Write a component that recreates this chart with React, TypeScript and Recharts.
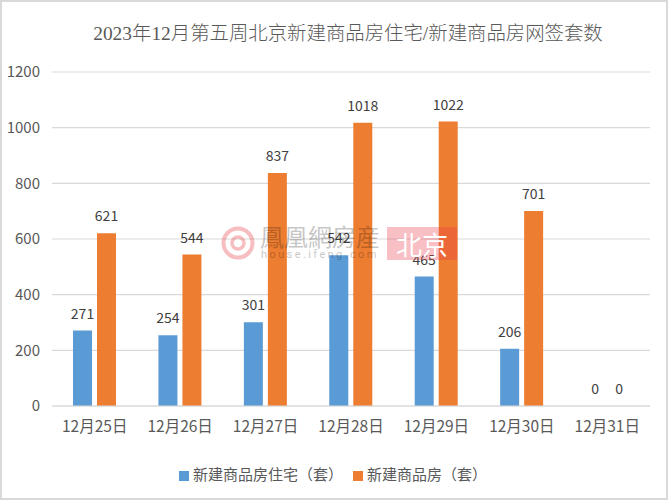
import React from "react";
import { BarChart, Bar, XAxis, YAxis, CartesianGrid, Legend, LabelList } from "recharts";

const categories = ["12月25日", "12月26日", "12月27日", "12月28日", "12月29日", "12月30日", "12月31日"];
const residential = [271, 254, 301, 542, 465, 206, 0];
const allHomes = [621, 544, 837, 1018, 1022, 701, 0];
const yTicks = [0, 200, 400, 600, 800, 1000, 1200];
const rows = categories.map((day, i) => ({ day, residential: residential[i], allHomes: allHomes[i] }));

const FONT = '"Noto Sans CJK SC", sans-serif';

const valueLabel = (p: any) => (
  <text x={Number(p.x) + Number(p.width) / 2} y={Number(p.y) - 12} textAnchor="middle" fill="#404040" fontSize={14} fontFamily={FONT}>
    {p.value}
  </text>
);

export default function App() {
  return (
    <div style={{ position: "absolute", left: 0, top: 0, width: 668, height: 500, background: "#fff", overflow: "hidden" }}>
      <BarChart width={668} height={500} data={rows} barSize={19} barGap={5} barCategoryGap={0}
        margin={{ top: 72, right: 18, bottom: 43, left: 0 }} style={{ fontFamily: FONT }}>
        <CartesianGrid vertical={false} stroke="#d9d9d9" strokeWidth={1.2} />
        <XAxis dataKey="day" axisLine={{ stroke: "#d9d9d9", strokeWidth: 1.2 }} tickLine={false} height={30}
          tick={{ fill: "#595959", fontSize: 15.5 }} tickMargin={9} interval={0} />
        <YAxis width={52} domain={[0, 1200]} ticks={yTicks} axisLine={false} tickLine={false}
          tick={{ fill: "#595959", fontSize: 15 }} tickMargin={6} />
        <Legend verticalAlign="bottom" iconType="square" iconSize={10}
          wrapperStyle={{ fontSize: 15, top: 463, left: 13 }}
          formatter={(v: string) => <span style={{ color: "#595959" }}>{v}</span>} />
        <Bar dataKey="residential" name="新建商品房住宅（套）" fill="#5b9bd5" isAnimationActive={false} minPointSize={0.01}>
          <LabelList dataKey="residential" content={valueLabel} />
        </Bar>
        <Bar dataKey="allHomes" name="新建商品房（套）" fill="#ed7d31" isAnimationActive={false} minPointSize={0.01}>
          <LabelList dataKey="allHomes" content={valueLabel} />
        </Bar>
      </BarChart>

      <div style={{ position: "absolute", left: 14, top: 17, width: 668, textAlign: "center", fontFamily: '"Liberation Serif", "Noto Sans CJK SC", serif', fontSize: 19.4, fontWeight: 300, color: "#595959", whiteSpace: "nowrap" }}>
        2023年12月第五周北京新建商品房住宅/新建商品房网签套数
      </div>

      <div style={{ position: "absolute", left: 221, top: 226, width: 34, height: 34, opacity: 0.35 }}>
        <svg width={34} height={34}>
          <circle cx={17} cy={17} r={14.5} fill="none" stroke="#e8474c" strokeWidth={4} />
          <circle cx={17} cy={17} r={6} fill="none" stroke="#e8474c" strokeWidth={3.5} />
        </svg>
      </div>
      <div style={{ position: "absolute", left: 260, top: 222, fontFamily: '"Noto Sans CJK SC"', fontSize: 24, lineHeight: "28px", color: "#000", opacity: 0.22, whiteSpace: "nowrap" }}>鳳凰網房産</div>
      <div style={{ position: "absolute", left: 261, top: 248, fontFamily: "Roboto", fontSize: 11, letterSpacing: 2.4, lineHeight: "14px", color: "#000", opacity: 0.22, whiteSpace: "nowrap" }}>house.ifeng.com</div>
      <div style={{ position: "absolute", left: 387, top: 227, width: 70, height: 33, background: "rgba(232,60,70,0.32)", color: "#fff", fontFamily: '"Noto Sans CJK SC"', fontSize: 26, lineHeight: "33px", textAlign: "center", whiteSpace: "nowrap" }}>北京</div>

      <div style={{ position: "absolute", inset: 0, border: "2px solid #d9d9d9", boxSizing: "border-box", pointerEvents: "none" }} />
    </div>
  );
}
